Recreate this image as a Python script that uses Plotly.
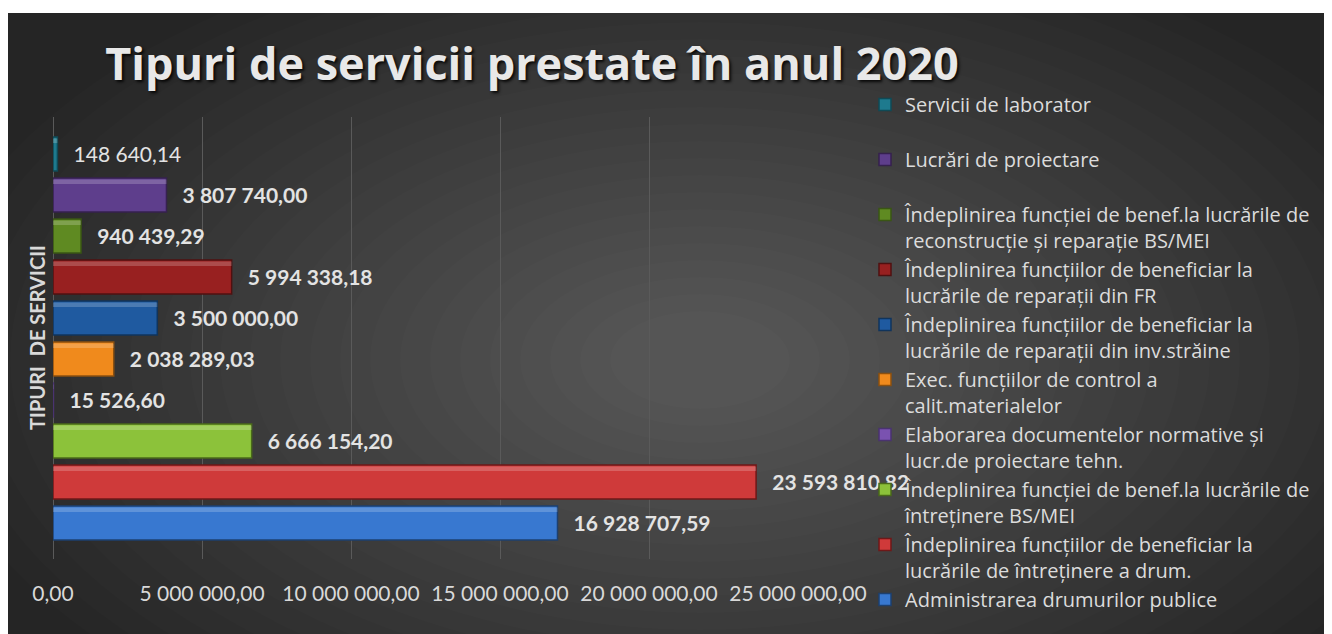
import plotly.graph_objects as go

# ---- data (bottom bar first) ----
categories = [
    "Administrarea drumurilor publice",
    "Îndeplinirea funcțiilor de beneficiar la<br>lucrările de întreținere a drum.",
    "Îndeplinirea funcției de benef.la lucrările de<br>întreținere BS/MEI",
    "Elaborarea documentelor normative și<br>lucr.de proiectare tehn.",
    "Exec. funcțiilor de control a<br>calit.materialelor",
    "Îndeplinirea funcțiilor de beneficiar la<br>lucrările de reparații din inv.străine",
    "Îndeplinirea funcțiilor de beneficiar la<br>lucrările de reparații din FR",
    "Îndeplinirea funcției de benef.la lucrările de<br>reconstrucție și reparație BS/MEI",
    "Lucrări de proiectare<br> ",
    "Servicii de laborator<br> ",
]
values = [16928707.59, 23593810.82, 6666154.20, 15526.60, 2038289.03,
          3500000.00, 5994338.18, 940439.29, 3807740.00, 148640.14]
colors = ["#3878d0", "#cf3a3a", "#8cc23a", "#7a52b0", "#f08a1c",
          "#1f5aa0", "#982020", "#5f8a22", "#5e3e8c", "#1e7a8e"]
line_colors = ["#1d4070", "#6e1818", "#4a6a1a", "#4a3370", "#8c500f",
               "#10345c", "#501010", "#3a5614", "#36214f", "#0f4a56"]
x_ticks = [0, 5000000, 10000000, 15000000, 20000000, 25000000]

# ---- geometry (figure pixels; page body has an 8px margin) ----
OFF = 8
W, H = 1332 - OFF, 634 - OFF
ML, MT = 53 - OFF, 117 - OFF
PW, PH = 745, 442
MR = W - ML - PW
MB = H - MT - PH
BW = 0.83

def px(x):  # reference screen x -> paper
    return (x - OFF - ML) / PW

def py(y):  # reference screen y -> paper
    return (MT + PH - (y - OFF)) / PH

fig = go.Figure()
for i in reversed(range(len(categories))):
    cat, v = categories[i], values[i]
    fig.add_trace(go.Bar(
        x=[v], y=[cat], orientation="h", name=cat,
        legendgroup="g%d" % i,
        marker=dict(color=colors[i], line=dict(color=line_colors[i], width=1.5)),
        width=BW,
        texttemplate="\u2002\u2009%{x:,.2f}",
        textposition="outside",
        cliponaxis=False,
        constraintext="none",
        textfont=dict(family="Lato", size=21, color="#e3e3e3",
                      weight="normal" if i == 9 else "bold"),
        hoverinfo="skip",
    ))
# bevel highlight on top edge of each bar (same values)
for i in range(len(categories)):
    fig.add_trace(go.Bar(
        x=[values[i]], y=[categories[i]], orientation="h",
        marker=dict(color="rgba(255,255,255,0.20)", line=dict(width=0)),
        width=0.11, offset=BW / 2 - 0.15,
        showlegend=False, hoverinfo="skip", legendgroup="g%d" % i,
    ))

shapes = []
# radial-ish lightening of the dark panel
cx, cy = 700, 360
N = 24
for k in range(N):
    rx = 780 - k * 30
    ry = 440 - k * 17
    shapes.append(dict(type="circle", xref="paper", yref="paper",
                       x0=px(cx - rx), x1=px(cx + rx), y0=py(cy - ry), y1=py(cy + ry),
                       fillcolor="rgba(255,255,255,0.0125)", line=dict(width=0), layer="below"))
# white strip at top of the reference
shapes.append(dict(type="rect", xref="paper", yref="paper", x0=px(0), x1=px(1400), y0=py(0), y1=py(13),
                   fillcolor="white", line=dict(width=0), layer="below"))

fig.update_layout(
    width=W, height=H,
    margin=dict(l=ML, r=MR, t=MT, b=MB, autoexpand=False),
    paper_bgcolor="#252525",
    plot_bgcolor="rgba(0,0,0,0)",
    separators=", ",
    barmode="overlay",
    showlegend=True,
    shapes=shapes,
    title=dict(
        text="<b>Tipuri de servicii prestate în anul 2020</b>",
        x=(532 - OFF) / W, xanchor="center", xref="container",
        y=1 - (64 - OFF) / H, yanchor="middle", yref="container",
        font=dict(family="Open Sans", size=45, color="#e8e8e8",
                  shadow="2px 2px 3px rgba(0,0,0,0.85)"),
    ),
    legend=dict(
        x=px(865), y=py(85), xanchor="left", yanchor="top",
        traceorder="grouped", tracegroupgap=0,
        valign="top", itemwidth=30, maxheight=620,
        font=dict(family="Open Sans", size=20, color="#dcdcdc"),
        bgcolor="rgba(0,0,0,0)",
    ),
    xaxis=dict(
        range=[0, 25000000], tickvals=x_ticks, tickformat=",.2f",
        showgrid=True, gridcolor="#5a5a5a", gridwidth=1,
        zeroline=True, zerolinecolor="#5a5a5a", zerolinewidth=1,
        showline=False, ticks="", ticklabelstandoff=20,
        tickfont=dict(family="Lato", size=21, color="#d9d9d9"),
    ),
    yaxis=dict(
        categoryorder="array", categoryarray=categories,
        range=[-0.88, 9.9], showticklabels=False, showgrid=False,
        zeroline=False, showline=False, ticks="",
    ),
    annotations=[dict(
        text="<b>TIPURI\u00a0\u00a0DE SERVICII</b>", textangle=-90,
        xref="paper", yref="paper", x=px(37), y=py(338),
        xanchor="center", yanchor="middle", showarrow=False,
        font=dict(family="Lato", size=20, color="#d9d9d9"),
    )],
)

fig.write_html("out.html")
